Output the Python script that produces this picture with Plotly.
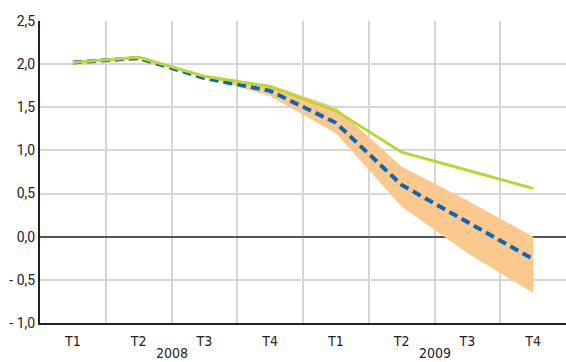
import plotly.graph_objects as go

quarters = ["T1", "T2", "T3", "T4", "T1", "T2", "T3", "T4"]
years = ["2008", "2009"]
central = [2.02, 2.07, 1.84, 1.69, 1.32, 0.60, 0.17, -0.26]
previous = [2.02, 2.08, 1.86, 1.74, 1.46, 0.98, 0.77, 0.56]
band_upper = [None, None, 1.85, 1.76, 1.50, 0.81, 0.42, 0.00]
band_lower = [None, None, 1.85, 1.63, 1.20, 0.35, -0.19, -0.65]
ytick_vals = [-1.0, -0.5, 0.0, 0.5, 1.0, 1.5, 2.0, 2.5]
ytick_text = ["- 1,0", "- 0,5", "0,0", "0,5", "1,0", "1,5", "2,0", "2,5"]

xs = list(range(len(quarters)))
bx = [x for x, v in zip(xs, band_upper) if v is not None]
bu = [v for v in band_upper if v is not None]
bl = [v for v in band_lower if v is not None]

XFONT = "DejaVu Sans Condensed, Roboto Condensed, Liberation Sans Narrow, sans-serif"

fig = go.Figure()
fig.add_trace(go.Scatter(x=bx + bx[::-1], y=bu + bl[::-1], fill="toself",
                         fillcolor="#fbc98d", line=dict(width=0, color="#fbc98d"),
                         mode="lines", hoverinfo="skip"))
fig.add_trace(go.Scatter(x=xs, y=central, mode="lines",
                         line=dict(color="#0a66b8", width=4, dash="9px,5px")))
fig.add_trace(go.Scatter(x=xs, y=previous, mode="lines",
                         line=dict(color="#bcd631", width=3)))

for i, yr in enumerate(years):
    fig.add_annotation(x=1.5 + 4 * i, y=0, xref="x", yref="paper", yshift=-30,
                       text=yr, showarrow=False, yanchor="middle",
                       font=dict(family=XFONT, size=14, color="#222"))

fig.update_layout(
    width=566, height=362, margin=dict(l=40, r=0, t=21, b=39, autoexpand=False),
    paper_bgcolor="white", plot_bgcolor="white", showlegend=False,
    xaxis=dict(range=[-0.5, 7.5], tickvals=xs, ticktext=quarters, showgrid=False,
               zeroline=False, showline=True, linecolor="#222", linewidth=2,
               automargin=False, ticklabelstandoff=4,
               tickfont=dict(family=XFONT, size=14, color="#222"),
               ticks="", minor=dict(tickvals=[0.5 + i for i in range(7)], showgrid=True,
                                    gridcolor="#d6d6d6", gridwidth=1.5, ticks="")),
    yaxis=dict(range=[-1.0, 2.5], tickvals=ytick_vals, ticktext=ytick_text, showgrid=False,
               zeroline=True, zerolinecolor="#555", zerolinewidth=2,
               showline=True, linecolor="#222", linewidth=2, ticks="",
               automargin=False,
               tickfont=dict(family="Roboto", size=14, color="#222"),
               minor=dict(tickvals=[-0.5, 0.5, 1.0, 1.5, 2.0], showgrid=True,
                          gridcolor="#d6d6d6", gridwidth=1.5, ticks="")),
)

fig.write_html("out.html", config={"displayModeBar": False},
               post_script="document.body.style.margin='0';")
